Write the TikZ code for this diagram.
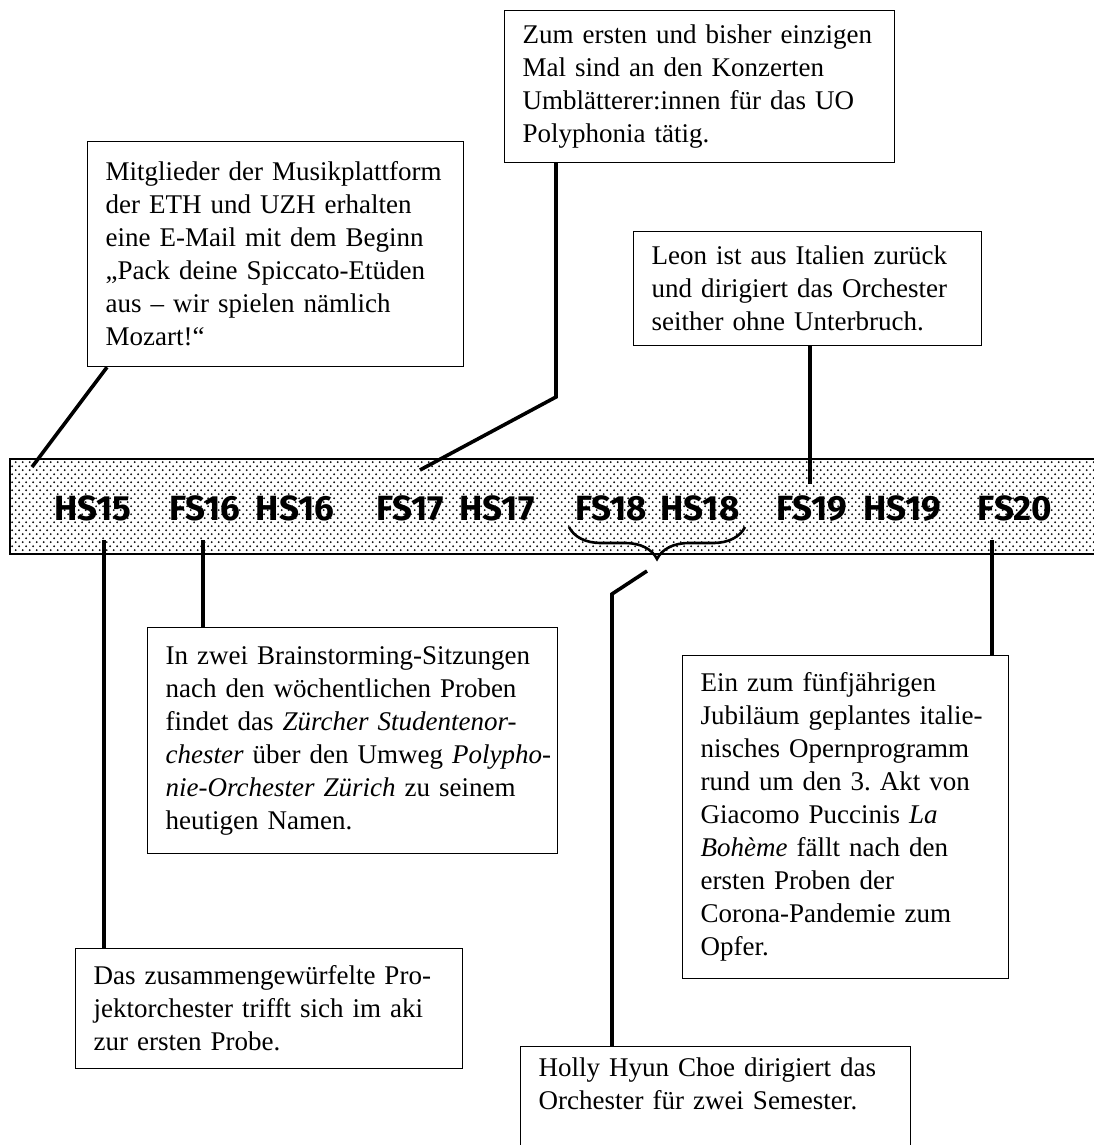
\documentclass[tikz,border=0pt]{standalone}
\usepackage{fontspec}
\setmainfont{Liberation Serif}
\newfontfamily\semfont{Fira Sans}
\usetikzlibrary{patterns,decorations.pathreplacing}

\pgfdeclarepatternformonly{punkte}{\pgfqpoint{0pt}{0pt}}{\pgfqpoint{7.4pt}{7.8pt}}{\pgfqpoint{7.4pt}{7.8pt}}{
  \pgfpathcircle{\pgfqpoint{1.85pt}{1.95pt}}{1.05pt}
  \pgfpathcircle{\pgfqpoint{5.55pt}{5.85pt}}{1.05pt}
  \pgfusepath{fill}}

\begin{document}
\begin{tikzpicture}[x=1pt,y=-1pt,
  infobox/.style={draw, rectangle, line width=1.2pt, anchor=north west, align=left,
    inner xsep=18pt, inner ysep=10pt, font=\fontsize{27}{33}\selectfont},
  conn/.style={line width=3.6pt},
  sem/.style={anchor=base, font=\semfont\bfseries\fontsize{35}{35}\selectfont}]
\useasboundingbox (0,0) rectangle (1094,1145);

% Zeitleiste
\draw[line width=2.2pt, pattern=punkte] (10,459) rectangle (1110,554);
\node[sem] (hs15) at (93,520){HS15};
\node[sem] (fs16) at (205,520){FS16};
\node[sem] (hs16) at (295,520){HS16};
\node[sem] (fs17) at (410,520){FS17};
\node[sem] (hs17) at (497,520){HS17};
\node[sem] (fs18) at (611,520){FS18};
\node[sem] (hs18) at (700,520){HS18};
\node[sem] (fs19) at (812,520){FS19};
\node[sem] (hs19) at (902,520){HS19};
\node[sem] (fs20) at (1015,520){FS20};

% Kaesten
\node[infobox, text width=340pt, minimum height=225pt] (mitgl) at (87,141){Mitglieder der Musikplattform\\der ETH und UZH erhalten\\eine E-Mail mit dem Beginn\\„Pack deine Spiccato-Etüden\\aus – wir spielen nämlich\\Mozart!“};
\node[infobox, text width=354pt, minimum height=152pt] (umbl) at (504,10){Zum ersten und bisher einzigen\\Mal sind an den Konzerten\\Umblätterer:innen für das UO\\Polyphonia tätig.};
\node[infobox, text width=312pt, minimum height=114pt] (leon) at (633,231){Leon ist aus Italien zurück\\und dirigiert das Orchester\\seither ohne Unterbruch.};
\node[infobox, text width=374pt, minimum height=226pt] (brain) at (147,627){In zwei Brainstorming-Sitzungen\\nach den wöchentlichen Proben\\findet das \textit{Zürcher Studentenor-}\\\mbox{\textit{chester} über den Umweg \textit{Polypho-}}\\\textit{nie-Orchester Zürich} zu seinem\\heutigen Namen.};
\node[infobox, text width=351pt, minimum height=120pt] (projekt) at (75,948){Das zusammengewürfelte Pro-\\jektorchester trifft sich im aki\\zur ersten Probe.};
\node[infobox, text width=290pt, minimum height=323pt] (jubi) at (682,655){Ein zum fünfjährigen\\Jubiläum geplantes italie-\\nisches Opernprogramm\\rund um den 3.\ Akt von\\Giacomo Puccinis \textit{La}\\\textit{Bohème} fällt nach den\\ersten Proben der\\Corona-Pandemie zum\\Opfer.};
\node[infobox, text width=354pt, inner ysep=11pt] (holly) at (520,1046){Holly Hyun Choe dirigiert das\\Orchester für zwei Semester.\\\mbox{}\\\mbox{}};

% Verbindungen
\coordinate (hs15a) at (32,467);
\coordinate (hs15b) at (104,540);
\coordinate (hs16b) at (203,540);
\coordinate (knickb) at (556,397);
\coordinate (fs17a) at (420,470);
\coordinate (fs19a) at (810,484);
\coordinate (fs20b) at (992,540);
\coordinate (fs18l) at (569,527);
\coordinate (hs18r) at (745,527);
\coordinate (klammer) at (647,571);
\coordinate (knickd) at (612,594);

\draw[conn] ([xshift=20pt]mitgl.south west) -- (hs15a);
\draw[conn] ([xshift=52pt]umbl.south west) -- (knickb) -- (fs17a);
\draw[conn] ([xshift=177pt]leon.south west) -- (fs19a);
\draw[conn] (hs15b) -- (hs15b |- projekt.north);
\draw[conn] (hs16b) -- (hs16b |- brain.north);
\draw[conn] (fs20b) -- (fs20b |- jubi.north);
\draw[line width=2.6pt, decorate, decoration={brace, mirror, amplitude=32pt}] (fs18l) -- (hs18r);
\draw[conn] (klammer) -- (knickd) -- (knickd |- holly.north);
\end{tikzpicture}
\end{document}
